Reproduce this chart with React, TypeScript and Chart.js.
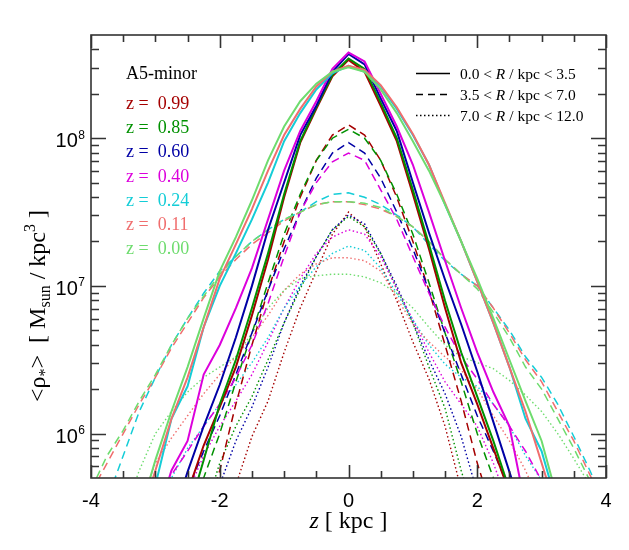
import React, { useEffect, useRef } from "react";
import { Chart, registerables } from "chart.js";

Chart.register(...registerables);

const N = null;

// vertical height z in kpc
const xKpc = [-4, -3.75, -3.5, -3.25, -3, -2.75, -2.5, -2.25, -2, -1.75, -1.5, -1.25, -1, -0.75, -0.5, -0.25, 0, 0.25, 0.5, 0.75, 1, 1.25, 1.5, 1.75, 2, 2.25, 2.5, 2.75, 3, 3.25, 3.5, 3.75, 4];

const redshifts = ["0.99", "0.85", "0.60", "0.40", "0.24", "0.11", "0.00"];
const radialBins = [["0.0", "3.5"], ["3.5", "7.0"], ["7.0", "12.0"]];
const runName = "A5-minor";

// 0.0 < R/kpc < 3.5
const inner099 = [N, N, N, N, N, 2.0e5, 4.0e5, 8.3e5, 1.51e6, 2.82e6, 6.31e6, 1.51e7, 3.98e7, 9.33e7, 1.58e8, 2.63e8, 3.39e8, 2.82e8, 1.66e8, 9.55e7, 4.17e7, 1.78e7, 7.08e6, 3.02e6, 1.58e6, 7.94e5, 3.98e5, N, N, N, N, N, N];
const inner085 = [N, N, N, N, N, N, 2.82e5, 6.6e5, 1.58e6, 3.16e6, 7.08e6, 1.66e7, 4.17e7, 9.55e7, 1.62e8, 2.69e8, 3.47e8, 2.95e8, 1.74e8, 1.0e8, 4.47e7, 1.91e7, 7.94e6, 3.55e6, 1.78e6, 8.91e5, 4.17e5, 2.0e5, N, N, N, N, N];
const inner060 = [N, N, N, N, N, 2.51e5, 5.5e5, 1.12e6, 2.14e6, 4.47e6, 1.0e7, 2.4e7, 5.01e7, 1.05e8, 1.66e8, 2.82e8, 3.72e8, 3.16e8, 1.86e8, 1.12e8, 5.01e7, 2.29e7, 1.1e7, 5.5e6, 2.63e6, 1.2e6, 5.5e5, 2.51e5, N, N, N, N, N];
const inner040 = [N, N, N, N, 2.51e5, 5.62e5, 8.91e5, 2.51e6, 3.98e6, 7.08e6, 1.32e7, 2.82e7, 6.03e7, 1.12e8, 1.78e8, 2.95e8, 3.8e8, 3.31e8, 2.0e8, 1.2e8, 6.61e7, 3.16e7, 1.48e7, 7.08e6, 3.55e6, 1.91e6, 1.12e6, 3.16e5, N, N, N, N, N];
const inner024 = [N, N, N, 2.0e5, 4.47e5, 1.26e6, 2.09e6, 5.25e6, 1.0e7, 1.66e7, 2.82e7, 5.01e7, 9.55e7, 1.48e8, 2.14e8, 2.75e8, 3.09e8, 2.82e8, 2.24e8, 1.58e8, 1.05e8, 6.61e7, 3.55e7, 2.0e7, 1.07e7, 5.62e6, 2.82e6, 1.26e6, 7.59e5, 3.16e5, N, N, N];
const inner011 = [N, N, N, 2.51e5, 5.62e5, 1.26e6, 2.4e6, 5.25e6, 1.12e7, 1.91e7, 3.31e7, 6.03e7, 1.05e8, 1.58e8, 2.24e8, 2.82e8, 3.09e8, 2.9e8, 2.29e8, 1.62e8, 1.07e8, 6.61e7, 3.63e7, 2.0e7, 1.07e7, 5.62e6, 2.82e6, 1.41e6, 6.31e5, 2.82e5, N, N, N];
const inner000 = [N, N, N, 2.82e5, 6.61e5, 1.41e6, 2.82e6, 6.03e6, 1.26e7, 2.14e7, 3.8e7, 7.08e7, 1.2e8, 1.78e8, 2.34e8, 2.82e8, 3.02e8, 2.82e8, 2.14e8, 1.48e8, 9.55e7, 6.03e7, 3.55e7, 2.0e7, 1.12e7, 6.03e6, 3.16e6, 1.66e6, 8.91e5, 3.55e5, N, N, N];

// 3.5 < R/kpc < 7.0
const mid099 = [N, N, N, N, N, N, N, 2.51e5, 5.62e5, 1.58e6, 3.98e6, 9.33e6, 2.0e7, 3.98e7, 7.08e7, 1.05e8, 1.23e8, 1.05e8, 7.08e7, 3.98e7, 2.0e7, 9.33e6, 3.98e6, 1.66e6, 6.31e5, 2.82e5, N, N, N, N, N, N, N];
const mid085 = [N, N, N, N, N, N, 2.24e5, 5.01e5, 1.0e6, 2.24e6, 4.79e6, 1.05e7, 2.24e7, 4.17e7, 7.08e7, 1.0e8, 1.15e8, 1.0e8, 7.08e7, 4.17e7, 2.24e7, 1.05e7, 4.79e6, 2.24e6, 1.0e6, 5.01e5, 2.24e5, N, N, N, N, N, N];
const mid060 = [N, N, N, N, N, 2.24e5, 4.17e5, 7.59e5, 1.32e6, 2.51e6, 4.79e6, 9.33e6, 1.78e7, 3.16e7, 5.37e7, 7.94e7, 9.33e7, 7.94e7, 5.37e7, 3.16e7, 1.78e7, 9.33e6, 4.79e6, 2.51e6, 1.32e6, 7.59e5, 4.17e5, 2.24e5, N, N, N, N, N];
const mid040 = [N, N, N, N, 3.16e5, 5.25e5, 7.59e5, 1.12e6, 1.58e6, 2.4e6, 3.98e6, 7.59e6, 1.58e7, 3.16e7, 5.01e7, 6.92e7, 7.94e7, 7.08e7, 4.47e7, 2.82e7, 1.58e7, 8.91e6, 5.25e6, 3.31e6, 2.34e6, 1.58e6, 1.12e6, 7.59e5, 4.79e5, 2.51e5, N, N, N];
const mid024 = [1.78e5, 3.55e5, 7.08e5, 1.41e6, 2.4e6, 3.98e6, 6.03e6, 8.91e6, 1.26e7, 1.58e7, 2.0e7, 2.4e7, 2.82e7, 3.16e7, 3.72e7, 4.17e7, 4.27e7, 3.98e7, 3.55e7, 3.02e7, 2.51e7, 1.91e7, 1.48e7, 1.2e7, 1.0e7, 7.08e6, 5.01e6, 3.31e6, 2.4e6, 1.58e6, 9.55e5, 5.62e5, 3.16e5];
const mid011 = [3.98e5, 6.31e5, 1.0e6, 1.58e6, 2.4e6, 3.8e6, 5.62e6, 8.32e6, 1.15e7, 1.51e7, 1.91e7, 2.29e7, 2.75e7, 3.16e7, 3.55e7, 3.72e7, 3.72e7, 3.55e7, 3.31e7, 2.95e7, 2.51e7, 2.0e7, 1.51e7, 1.2e7, 1.0e7, 7.08e6, 4.79e6, 3.16e6, 2.24e6, 1.41e6, 8.91e5, 5.25e5, 3.16e5];
const mid000 = [4.17e5, 7.08e5, 1.05e6, 1.66e6, 2.51e6, 3.98e6, 6.03e6, 8.51e6, 1.2e7, 1.58e7, 2.0e7, 2.4e7, 2.82e7, 3.16e7, 3.55e7, 3.72e7, 3.72e7, 3.63e7, 3.39e7, 2.95e7, 2.51e7, 2.0e7, 1.51e7, 1.2e7, 9.55e6, 6.61e6, 4.47e6, 2.82e6, 2.0e6, 1.26e6, 7.94e5, 4.79e5, 2.82e5];

// 7.0 < R/kpc < 12.0
const outer099 = [N, N, N, N, N, N, N, N, 2.51e5, 4.47e5, 9.55e5, 1.66e6, 3.55e6, 7.08e6, 1.26e7, 2.24e7, 3.16e7, 2.51e7, 1.41e7, 7.94e6, 4.17e6, 2.34e6, 1.12e6, 4.17e5, 2.0e5, N, N, N, N, N, N, N, N];
const outer085 = [N, N, N, N, N, N, N, 2.82e5, 6.31e5, 1.12e6, 1.78e6, 3.16e6, 5.62e6, 9.55e6, 1.58e7, 2.4e7, 2.95e7, 2.51e7, 1.66e7, 9.55e6, 5.62e6, 2.82e6, 1.48e6, 5.62e5, 2.51e5, N, N, N, N, N, N, N, N];
const outer060 = [N, N, N, N, N, N, N, 2.51e5, 4.47e5, 8.91e5, 1.51e6, 2.82e6, 5.62e6, 1.0e7, 1.58e7, 2.4e7, 3.02e7, 2.63e7, 1.66e7, 1.0e7, 5.62e6, 3.16e6, 1.86e6, 9.55e5, 3.98e5, 2.0e5, N, N, N, N, N, N, N];
const outer040 = [N, N, N, N, N, 2.0e5, 3.98e5, 7.08e5, 1.12e6, 1.66e6, 2.51e6, 4.17e6, 7.08e6, 1.12e7, 1.66e7, 2.14e7, 2.4e7, 2.24e7, 1.58e7, 9.55e6, 5.89e6, 3.55e6, 2.24e6, 1.58e6, 1.12e6, 6.31e5, 3.16e5, N, N, N, N, N, N];
const outer024 = [N, N, N, N, 2.51e5, 5.01e5, 7.94e5, 1.12e6, 1.58e6, 2.14e6, 3.02e6, 4.47e6, 7.08e6, 1.0e7, 1.35e7, 1.66e7, 1.86e7, 1.74e7, 1.32e7, 8.91e6, 5.89e6, 3.98e6, 2.95e6, 2.4e6, 2.09e6, 1.58e6, 1.12e6, 7.08e5, 4.79e5, 2.51e5, N, N, N];
const outer011 = [N, N, N, 3.16e5, 6.31e5, 9.33e5, 1.32e6, 1.86e6, 2.51e6, 3.31e6, 4.47e6, 6.31e6, 9.33e6, 1.2e7, 1.41e7, 1.55e7, 1.55e7, 1.48e7, 1.26e7, 8.32e6, 5.5e6, 4.17e6, 3.31e6, 2.69e6, 2.0e6, 1.32e6, 8.91e5, 5.62e5, 3.16e5, N, N, N, N];
const outer000 = [N, N, 2.82e5, 5.62e5, 1.0e6, 1.41e6, 1.91e6, 2.4e6, 2.82e6, 3.31e6, 4.79e6, 7.08e6, 9.33e6, 1.12e7, 1.17e7, 1.2e7, 1.2e7, 1.15e7, 1.05e7, 8.91e6, 7.08e6, 5.25e6, 3.98e6, 3.31e6, 3.02e6, 2.75e6, 2.29e6, 1.82e6, 1.41e6, 1.0e6, 6.76e5, 4.47e5, 2.82e5];

const innerSeries = [inner099, inner085, inner060, inner040, inner024, inner011, inner000];
const midSeries = [mid099, mid085, mid060, mid040, mid024, mid011, mid000];
const outerSeries = [outer099, outer085, outer060, outer040, outer024, outer011, outer000];

const xMajorTicks = [-4, -2, 0, 2, 4];
const xMinorTicks = [-3.5, -3, -2.5, -1.5, -1, -0.5, 0.5, 1, 1.5, 2.5, 3, 3.5];
const yMajorTicks = [1e6, 1e7, 1e8];
const yMajorExp = ["6", "7", "8"];
const yMinorTicks = [6e5, 7e5, 8e5, 9e5, 2e6, 3e6, 4e6, 5e6, 6e6, 7e6, 8e6, 9e6, 2e7, 3e7, 4e7, 5e7, 6e7, 7e7, 8e7, 9e7, 2e8, 3e8, 4e8];

const COLORS = ["rgb(165,0,0)", "rgb(0,145,0)", "rgb(0,0,165)", "rgb(220,0,220)", "rgb(20,205,215)", "rgb(240,110,110)", "rgb(110,220,110)"];
const SERIF = '"Liberation Serif", "Times New Roman", serif';
const SANS = '"Liberation Sans", Arial, sans-serif';

type Part = { t: string; size: number; italic?: boolean; dy?: number; fam?: string };

function partsWidth(ctx: CanvasRenderingContext2D, parts: Part[]) {
  let w = 0;
  for (const p of parts) {
    ctx.font = `${p.italic ? "italic " : ""}${p.size}px ${p.fam || SERIF}`;
    w += ctx.measureText(p.t).width;
  }
  return w;
}

function drawParts(ctx: CanvasRenderingContext2D, x: number, y: number, parts: Part[]) {
  let cx = x;
  ctx.textBaseline = "alphabetic";
  ctx.textAlign = "left";
  for (const p of parts) {
    ctx.font = `${p.italic ? "italic " : ""}${p.size}px ${p.fam || SERIF}`;
    ctx.fillText(p.t, cx, y + (p.dy || 0));
    cx += ctx.measureText(p.t).width;
  }
  return cx - x;
}

const framePlugin = {
  id: "idlFrame",
  afterDraw(chart: any) {
    const { ctx, chartArea: a, scales } = chart;
    const xs = scales.x;
    const ys = scales.y;
    ctx.save();
    ctx.strokeStyle = "#333";
    ctx.lineWidth = 1.6;
    ctx.setLineDash([]);
    ctx.strokeRect(a.left, a.top, a.right - a.left, a.bottom - a.top);

    const tickX = (v: number, len: number) => {
      const px = Math.round(xs.getPixelForValue(v)) + 0.5;
      ctx.beginPath();
      ctx.moveTo(px, a.bottom);
      ctx.lineTo(px, a.bottom - len);
      ctx.moveTo(px, a.top);
      ctx.lineTo(px, a.top + len);
      ctx.stroke();
    };
    const tickY = (v: number, len: number) => {
      const py = Math.round(ys.getPixelForValue(v)) + 0.5;
      ctx.beginPath();
      ctx.moveTo(a.left, py);
      ctx.lineTo(a.left + len, py);
      ctx.moveTo(a.right, py);
      ctx.lineTo(a.right - len, py);
      ctx.stroke();
    };
    xMajorTicks.forEach((v) => tickX(v, 13));
    xMinorTicks.forEach((v) => tickX(v, 7));
    yMajorTicks.forEach((v) => tickY(v, 15));
    yMinorTicks.forEach((v) => tickY(v, 8));

    ctx.fillStyle = "#000";
    // x tick labels
    ctx.font = `20px ${SANS}`;
    ctx.textAlign = "center";
    ctx.textBaseline = "alphabetic";
    xMajorTicks.forEach((v) => {
      ctx.fillText(String(v), xs.getPixelForValue(v), a.bottom + 29);
    });
    // y tick labels 10^n
    yMajorTicks.forEach((v, i) => {
      const py = ys.getPixelForValue(v);
      ctx.font = `12px ${SANS}`;
      ctx.textAlign = "left";
      const ew = ctx.measureText(yMajorExp[i]).width;
      const supX = a.left - 6 - ew;
      ctx.fillText(yMajorExp[i], supX, py + 0.5);
      ctx.font = `20px ${SANS}`;
      ctx.textAlign = "right";
      ctx.fillText("10", supX - 0.5, py + 9);
    });

    // x title
    const xt: Part[] = [
      { t: "z", size: 24, italic: true },
      { t: " [ kpc ]", size: 24 },
    ];
    const xw = partsWidth(ctx, xt);
    drawParts(ctx, (a.left + a.right) / 2 - xw / 2, 528, xt);

    // y title (rotated)
    const yt: Part[] = [
      { t: "<ρ", size: 24 },
      { t: "*", size: 16, dy: 5 },
      { t: ">  [ M", size: 24 },
      { t: "sun", size: 16, dy: 5 },
      { t: " / kpc", size: 24 },
      { t: "3", size: 16, dy: -10 },
      { t: " ]", size: 24 },
    ];
    const yw = partsWidth(ctx, yt);
    ctx.save();
    ctx.translate(45, 306);
    ctx.rotate(-Math.PI / 2);
    drawParts(ctx, -yw / 2, 0, yt);
    ctx.restore();

    // left legend: run name + redshifts
    drawParts(ctx, 126, 79, [{ t: runName, size: 18 }]);
    redshifts.forEach((z, i) => {
      ctx.fillStyle = COLORS[i];
      drawParts(ctx, 126, 109 + i * 24.2, [{ t: `z =  ${z}`, size: 18 }]);
    });

    // right legend: radial bins
    ctx.fillStyle = "#000";
    ctx.strokeStyle = "#000";
    ctx.lineWidth = 1.3;
    const dashes = [[], [7, 5], [1.5, 2.5]];
    radialBins.forEach((rb, i) => {
      const ly = 73 + i * 21;
      ctx.setLineDash(dashes[i]);
      ctx.beginPath();
      ctx.moveTo(416, ly + 0.5);
      ctx.lineTo(450, ly + 0.5);
      ctx.stroke();
      ctx.setLineDash([]);
      drawParts(ctx, 460, ly + 5.5, [
        { t: `${rb[0]} < `, size: 15.5 },
        { t: "R", size: 15.5, italic: true },
        { t: ` / kpc < ${rb[1]}`, size: 15.5 },
      ]);
    });
    ctx.restore();
  },
};

function toPoints(arr: (number | null)[]) {
  const pts: { x: number; y: number }[] = [];
  arr.forEach((v, i) => {
    if (v !== null) pts.push({ x: xKpc[i], y: v });
  });
  return pts;
}

export default function App() {
  const ref = useRef<HTMLCanvasElement>(null);
  useEffect(() => {
    const datasets: any[] = [];
    // later-listed redshifts drawn on top: Chart.js draws index 0 last
    for (let k = redshifts.length - 1; k >= 0; k--) {
      datasets.push({
        label: `z=${redshifts[k]} inner`,
        data: toPoints(innerSeries[k]),
        borderColor: COLORS[k],
        borderWidth: 2,
        borderDash: [],
      });
    }
    for (let k = redshifts.length - 1; k >= 0; k--) {
      datasets.push({
        label: `z=${redshifts[k]} mid`,
        data: toPoints(midSeries[k]),
        borderColor: COLORS[k],
        borderWidth: 1.5,
        borderDash: [8, 5],
      });
    }
    for (let k = redshifts.length - 1; k >= 0; k--) {
      datasets.push({
        label: `z=${redshifts[k]} outer`,
        data: toPoints(outerSeries[k]),
        borderColor: COLORS[k],
        borderWidth: 1.4,
        borderDash: [1.5, 2.5],
      });
    }
    const chart = new Chart(ref.current as HTMLCanvasElement, {
      type: "line",
      data: { datasets },
      options: {
        animation: false,
        responsive: false,
        events: [],
        layout: { padding: { left: 91, right: 23, top: 35, bottom: 72 } },
        plugins: {
          legend: { display: false },
          tooltip: { enabled: false },
          title: { display: false },
        },
        elements: {
          point: { radius: 0 },
          line: { tension: 0, fill: false, borderJoinStyle: "miter" },
        },
        scales: {
          x: { type: "linear", min: -4, max: 4, display: false },
          y: { type: "logarithmic", min: 5e5, max: 5e8, display: false },
        },
      },
      plugins: [framePlugin],
    } as any);
    return () => chart.destroy();
  }, []);
  return (
    <div style={{ position: "absolute", left: 0, top: 0, width: 629, height: 550, background: "#fff" }}>
      <canvas ref={ref} width={629} height={550} style={{ display: "block" }} />
    </div>
  );
}
